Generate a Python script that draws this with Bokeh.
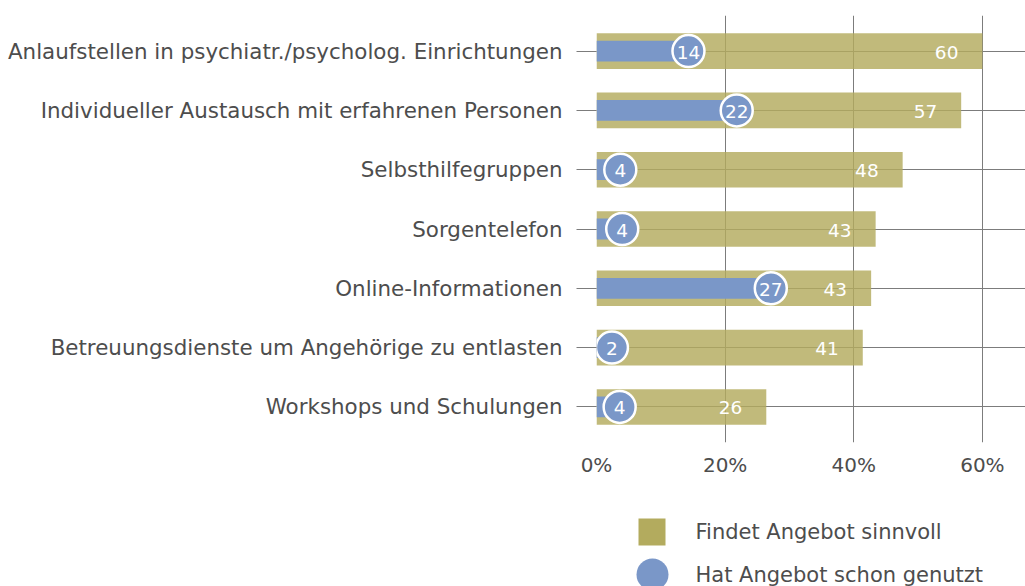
from bokeh.plotting import figure
from bokeh.models import FactorRange, Range1d, FixedTicker, ColumnDataSource
from bokeh.layouts import column
from bokeh.embed import file_html
from bokeh.resources import INLINE
from bokeh.core.properties import value

categories = [
    "Anlaufstellen in psychiatr./psycholog. Einrichtungen",
    "Individueller Austausch mit erfahrenen Personen",
    "Selbsthilfegruppen",
    "Sorgentelefon",
    "Online-Informationen",
    "Betreuungsdienste um Angehörige zu entlasten",
    "Workshops und Schulungen",
]
sinnvoll = [60.0, 56.7, 47.6, 43.4, 42.7, 41.4, 26.4]
genutzt = [14.3, 21.8, 3.7, 4.0, 27.1, 2.4, 3.6]
x_ticks = [0, 20, 40, 60]
x_tick_labels = ["0%", "20%", "40%", "60%"]
legend_labels = ["Findet Angebot sinnvoll", "Hat Angebot schon genutzt"]

OLIVE = "#b3ab5e"
BLUE = "#7a97c8"
GRID = "#7c7c7c"
TXT = "#4d4d4d"
FONT = "DejaVu Sans"

src = ColumnDataSource(dict(
    cat=categories,
    s=sinnvoll,
    g=genutzt,
    s_lab=[f"{round(v)}" for v in sinnvoll],
    g_lab=[f"{round(v)}" for v in genutzt],
))

p = figure(
    width=1025, height=490,
    x_range=Range1d(0, 66.7),
    y_range=FactorRange(factors=list(reversed(categories)), range_padding=0.1,
                        range_padding_units="absolute"),
    output_backend="svg", toolbar_location=None,
    min_border_left=596, min_border_right=0, min_border_top=15, min_border_bottom=48,
)
p.outline_line_color = None

p.hbar(y="cat", left=0, right="s", height=0.6, source=src,
       fill_color=OLIVE, fill_alpha=0.82, line_color=None)
p.hbar(y="cat", left=0, right="g", height=0.35, source=src,
       fill_color=BLUE, line_color=None)
p.scatter(x="g", y="cat", source=src, size=32, marker="circle",
          fill_color=BLUE, line_color="white", line_width=2.5)
p.text(x="s", y="cat", text="s_lab", source=src, x_offset=-24, y_offset=1,
       text_align="right", text_baseline="middle", text_color="white",
       text_font=value(FONT), text_font_size="18.5px")
p.text(x="g", y="cat", text="g_lab", source=src, y_offset=1,
       text_align="center", text_baseline="middle", text_color="white",
       text_font=value(FONT), text_font_size="18.5px")

# axes
p.xaxis.ticker = FixedTicker(ticks=x_ticks)
p.xaxis.major_label_overrides = {t: l for t, l in zip(x_ticks, x_tick_labels)}
p.xaxis.axis_line_color = None
p.xaxis.major_tick_line_color = None
p.xaxis.minor_tick_line_color = None
p.xaxis.major_label_standoff = 4
p.xaxis.major_label_text_font = FONT
p.xaxis.major_label_text_font_size = "20px"
p.xaxis.major_label_text_color = TXT

p.yaxis.axis_line_color = None
p.yaxis.major_tick_line_color = GRID
p.yaxis.major_tick_out = 20
p.yaxis.major_tick_in = 0
p.yaxis.major_label_standoff = 14
p.yaxis.major_label_text_font = FONT
p.yaxis.major_label_text_font_size = "21.4px"
p.yaxis.major_label_text_color = TXT

p.xgrid.ticker = FixedTicker(ticks=x_ticks)
p.xgrid.grid_line_color = GRID
p.ygrid.grid_line_color = GRID

# legend panel (frame aligned with the chart frame above)
lg = figure(width=1025, height=96, x_range=Range1d(0, 429), y_range=Range1d(96, 0),
            output_backend="svg", toolbar_location=None,
            x_axis_location=None, y_axis_location=None,
            min_border_left=596, min_border_right=0, min_border_top=0, min_border_bottom=0)
lg.outline_line_color = None
lg.xgrid.visible = False
lg.ygrid.visible = False
lsrc = ColumnDataSource(dict(
    x=[55.5, 56.0], y=[41.5, 84.0], m=["square", "circle"],
    sz=[27, 32], c=[OLIVE, BLUE], tx=[99, 99], lab=legend_labels,
))
lg.scatter(x="x", y="y", marker="m", size="sz", fill_color="c", line_color=None, source=lsrc)
lg.text(x="tx", y="y", text="lab", source=lsrc, text_baseline="middle", text_align="left",
        text_color=TXT, text_font=value(FONT), text_font_size="21px")

layout = column(p, lg, spacing=0)
open("out.html", "w").write(file_html(layout, INLINE))
